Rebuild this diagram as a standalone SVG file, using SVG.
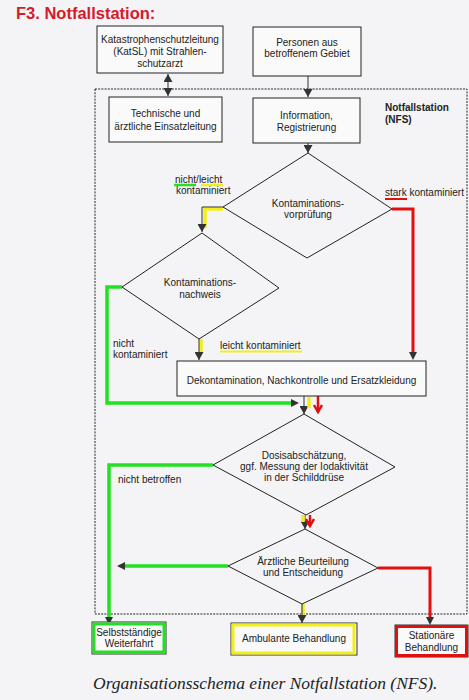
<svg xmlns="http://www.w3.org/2000/svg" width="469" height="700" viewBox="0 0 469 700">
<defs>
<marker id="ah" markerUnits="userSpaceOnUse" markerWidth="9" markerHeight="9" refX="8" refY="4.5" orient="auto-start-reverse"><path d="M0,0 L8,4.5 L0,9 z" fill="#333"/></marker>
<marker id="ahr" markerUnits="userSpaceOnUse" markerWidth="10" markerHeight="10" refX="8" refY="5" orient="auto"><path d="M1,1 L8,5 L1,9" fill="none" stroke="#e01010" stroke-width="2.5"/></marker>
<style>
text{font-family:"Liberation Sans",Arial,sans-serif;font-size:10px;fill:#222}
.c{text-anchor:middle}
.box{fill:#fafafa;stroke:#222;stroke-width:1}
.dia{fill:none;stroke:#222;stroke-width:1}
.ln{fill:none;stroke:#333;stroke-width:1}
.g{fill:none;stroke:#22e022;stroke-width:3.5}
.y{fill:none;stroke:#f2ee1a;stroke-width:3.5}
.r{fill:none;stroke:#e01010;stroke-width:3}
</style>
</defs>
<rect width="469" height="700" fill="#f4f4f6"/>
<text x="16" y="19" style="font-size:16.5px;font-weight:bold;fill:#d41a2c">F3. Notfallstation:</text>
<rect x="95" y="89" width="372" height="525" fill="none" stroke="#222" stroke-width="1" stroke-dasharray="2,1.2"/>
<text x="385" y="111" style="font-weight:bold">Notfallstation</text>
<text x="385" y="123" style="font-weight:bold">(NFS)</text>

<g id="connectors">
<line class="ln" x1="168" y1="74" x2="168" y2="96" marker-start="url(#ah)" marker-end="url(#ah)"/>
<line class="ln" x1="308" y1="76" x2="308" y2="97" marker-end="url(#ah)"/>
<line class="ln" x1="308" y1="143" x2="308" y2="153" marker-end="url(#ah)"/>
<polyline class="y" points="223,209 205,209 205,228"/>
<polyline class="ln" points="223,207 202,207 202,232" marker-end="url(#ah)"/>
<polyline class="g" points="122,287 107,287 107,403 292,403"/>
<path d="M291,399 L299,403 L291,407 z" fill="#333"/>
<line class="y" x1="201" y1="339" x2="201" y2="353"/>
<line class="ln" x1="199" y1="339" x2="199" y2="360" marker-end="url(#ah)"/>
<polyline class="r" points="392,209 413,209 413,352"/>
<path d="M409,352 L413,360 L417,352 z" fill="#333"/>
<line class="ln" x1="304" y1="396" x2="304" y2="414" marker-end="url(#ah)"/>
<line class="y" x1="309" y1="397" x2="309" y2="408"/>
<line stroke="#e01010" stroke-width="2.5" x1="318" y1="396" x2="318" y2="412" marker-end="url(#ahr)"/>
<polyline class="g" points="213,465 109,465 109,617"/>
<path d="M105,617 L109,625 L113,617 z" fill="#333"/>
<line class="ln" x1="305" y1="515" x2="305" y2="529" marker-end="url(#ah)"/>
<line class="y" x1="303" y1="515" x2="303" y2="522"/>
<line stroke="#e01010" stroke-width="2.5" x1="310" y1="515" x2="310" y2="526" marker-end="url(#ahr)"/>
<line class="g" x1="228" y1="566" x2="125" y2="566"/>
<path d="M125,562 L117,566 L125,570 z" fill="#333"/>
<polyline class="r" points="378,568 430,568 430,617"/>
<path d="M426,617 L430,625 L434,617 z" fill="#333"/>
<line class="y" x1="303" y1="604" x2="303" y2="616"/>
<line class="ln" x1="302" y1="604" x2="302" y2="623" marker-end="url(#ah)"/>
</g>

<g id="katsl"><rect class="box" x="97" y="26" width="126" height="47"/>
<text class="c" x="160" y="43">Katastrophenschutzleitung</text>
<text class="c" x="160" y="55">(KatSL) mit Strahlen-</text>
<text class="c" x="160" y="67">schutzarzt</text></g>
<g id="technische"><rect class="box" x="109" y="97" width="113" height="45"/>
<text class="c" x="165.5" y="116.5">Technische und</text>
<text class="c" x="165.5" y="129.5">ärztliche Einsatzleitung</text></g>
<g id="personen"><rect class="box" x="253" y="27" width="108" height="49"/>
<text class="c" x="307" y="45.5">Personen aus</text>
<text class="c" x="307" y="57">betroffenem Gebiet</text></g>
<g id="information"><rect class="box" x="253" y="98" width="107" height="45"/>
<text class="c" x="306.5" y="118.5">Information,</text>
<text class="c" x="306.5" y="130.5">Registrierung</text></g>
<g id="vorpruefung"><polygon class="dia" points="308,153 392,209 307,258 223,207"/>
<text class="c" x="308" y="206.5">Kontaminations-</text>
<text class="c" x="308" y="217.5">vorprüfung</text></g>
<g id="label-nichtleicht">
<text x="175" y="183">nicht/leicht</text>
<text x="176" y="194">kontaminiert</text>
<line x1="174" y1="185" x2="196" y2="185" stroke="#22e022" stroke-width="2.5"/>
<line x1="201" y1="185" x2="223" y2="185" stroke="#f2ee1a" stroke-width="2.5"/></g>
<g id="label-stark"><text x="385" y="196">stark kontaminiert</text>
<line x1="385" y1="199" x2="407" y2="199" stroke="#e01010" stroke-width="2"/></g>
<g id="nachweis"><polygon class="dia" points="202,233 279,288 199,339 122,287"/>
<text class="c" x="200" y="285.5">Kontaminations-</text>
<text class="c" x="200" y="297.5">nachweis</text></g>
<g id="label-nicht"><text x="113" y="346.5">nicht</text>
<text x="113" y="357.5">kontaminiert</text></g>
<g id="label-leicht"><text x="220" y="348.5">leicht kontaminiert</text>
<line x1="220" y1="351.5" x2="302" y2="351.5" stroke="#f2ee1a" stroke-width="2"/></g>
<g id="dekontamination"><rect class="box" x="177" y="361" width="249" height="35"/>
<text class="c" x="301.5" y="383.5">Dekontamination, Nachkontrolle und Ersatzkleidung</text></g>
<g id="dosis"><polygon class="dia" points="304,414 395,467 306,515 213,465"/>
<text class="c" x="304" y="458.5">Dosisabschätzung,</text>
<text class="c" x="304" y="469.5">ggf. Messung der Iodaktivität</text>
<text class="c" x="304" y="480.5">in der Schilddrüse</text></g>
<g id="label-nichtbetroffen"><text x="118" y="482.5">nicht betroffen</text></g>
<g id="aerztlich"><polygon class="dia" points="305,529 378,568 302,604 228,566"/>
<text class="c" x="303" y="564.5">Ärztliche Beurteilung</text>
<text class="c" x="303" y="575.5">und Entscheidung</text></g>
<g id="selbststaendig"><rect x="92" y="622" width="74" height="32" fill="#fafafa" stroke="#333" stroke-width="1"/>
<rect x="94" y="624" width="70" height="28" fill="none" stroke="#22e022" stroke-width="3"/>
<text class="c" x="129" y="635.5">Selbstständige</text>
<text class="c" x="129" y="647">Weiterfahrt</text></g>
<g id="ambulant"><rect x="231" y="623" width="126" height="32" fill="#fafafa" stroke="#333" stroke-width="1"/>
<rect x="233" y="625" width="121" height="28" fill="none" stroke="#f2ee1a" stroke-width="3"/>
<text class="c" x="294" y="641.5">Ambulante Behandlung</text></g>
<g id="stationaer"><rect x="395" y="625" width="73" height="32" fill="#fafafa" stroke="#333" stroke-width="1"/>
<rect x="396.5" y="626.5" width="70" height="29" fill="none" stroke="#e01010" stroke-width="3"/>
<text class="c" x="431.5" y="638.5">Stationäre</text>
<text class="c" x="431.5" y="650.5">Behandlung</text></g>
<text x="93" y="689" style="font-family:'Liberation Serif','Times New Roman',serif;font-style:italic;font-size:17.5px;fill:#222">Organisationsschema einer Notfallstation (NFS).</text>
</svg>
